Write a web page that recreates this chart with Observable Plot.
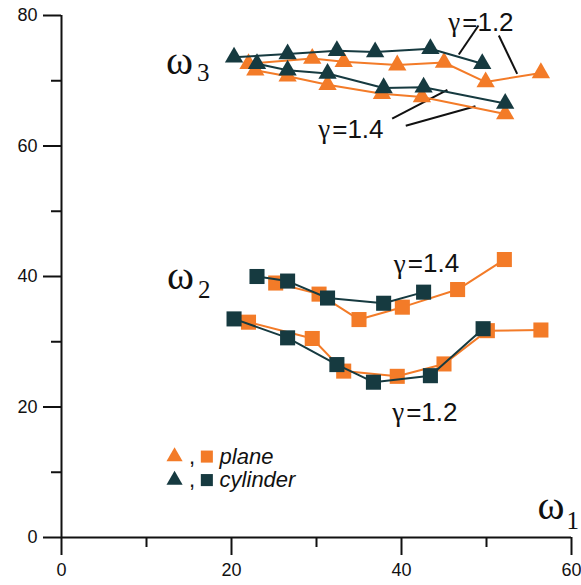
<!DOCTYPE html>
<html>
<head>
<meta charset="utf-8">
<script src="https://cdn.jsdelivr.net/npm/d3@7"></script>
<script src="https://cdn.jsdelivr.net/npm/@observablehq/plot@0.6"></script>
<style>
  html, body { margin: 0; padding: 0; background: #fff; }
  #chart { width: 581px; height: 585px; }
</style>
</head>
<body>
<div id="chart"></div>
<script>
// ---- tick values ----
const xTicksMajor = [0, 20, 40, 60];
const xTicksMinor = [10, 30, 50];
const yTicksMajor = [0, 20, 40, 60, 80];
const yTicksMinor = [10, 30, 50, 70];

// ---- ω3, γ=1.2 ----
const w3_g12_plane_x = [22.0, 29.5, 33.2, 39.5, 45.0, 49.9, 56.4];
const w3_g12_plane_y = [72.6, 73.4, 72.9, 72.4, 72.8, 69.8, 71.2];
const w3_g12_cyl_x = [20.3, 26.6, 32.4, 36.9, 43.4, 49.5];
const w3_g12_cyl_y = [73.6, 74.1, 74.6, 74.4, 74.9, 72.6];
// ---- ω3, γ=1.4 ----
const w3_g14_plane_x = [22.8, 26.6, 31.3, 37.7, 42.4, 52.2];
const w3_g14_plane_y = [71.6, 70.7, 69.4, 68.0, 67.5, 64.9];
const w3_g14_cyl_x = [23.0, 26.6, 31.3, 37.9, 42.6, 52.2];
const w3_g14_cyl_y = [72.6, 71.6, 71.1, 68.9, 69.0, 66.5];
// ---- ω2, γ=1.4 ----
const w2_g14_plane_x = [25.2, 30.3, 35.0, 40.1, 46.6, 52.1];
const w2_g14_plane_y = [39.0, 37.3, 33.4, 35.3, 38.0, 42.6];
const w2_g14_cyl_x = [23.0, 26.6, 31.3, 37.9, 42.6];
const w2_g14_cyl_y = [40.0, 39.3, 36.7, 35.9, 37.6];
// ---- ω2, γ=1.2 ----
const w2_g12_plane_x = [22.0, 29.5, 33.2, 39.5, 45.0, 50.1, 56.4];
const w2_g12_plane_y = [33.0, 30.5, 25.5, 24.7, 26.6, 31.7, 31.8];
const w2_g12_cyl_x = [20.3, 26.6, 32.4, 36.7, 43.4, 49.6];
const w2_g12_cyl_y = [33.5, 30.6, 26.5, 23.8, 24.8, 32.0];

// ---- text ----
const legendNames = ["plane", "cylinder"];
const gammaLabels = ["=1.2", "=1.4", "=1.4", "=1.2"];

const ORANGE = "#f37b28";
const DARK = "#163a40";

const series = (xs, ys, s) => xs.map((x, i) => ({x, y: ys[i], s}));

const planeTri = [...series(w3_g12_plane_x, w3_g12_plane_y, "a"), ...series(w3_g14_plane_x, w3_g14_plane_y, "b")];
const cylTri = [...series(w3_g12_cyl_x, w3_g12_cyl_y, "a"), ...series(w3_g14_cyl_x, w3_g14_cyl_y, "b")];
const planeSq = [...series(w2_g14_plane_x, w2_g14_plane_y, "c"), ...series(w2_g12_plane_x, w2_g12_plane_y, "d")];
const cylSq = [...series(w2_g14_cyl_x, w2_g14_cyl_y, "c"), ...series(w2_g12_cyl_x, w2_g12_cyl_y, "d")];

// annotation anchors (data units)
const gammaPos = [
  {x: 45.5, y: 78.9, t: gammaLabels[0]},
  {x: 30.2, y: 62.5, t: gammaLabels[1]},
  {x: 39.1, y: 41.9, t: gammaLabels[2]},
  {x: 38.9, y: 19.2, t: gammaLabels[3]}
];
const leaders = [
  {x1: 49.06, y1: 78.47, x2: 46.74, y2: 74.02},
  {x1: 51.45, y1: 76.94, x2: 53.61, y2: 71.06},
  {x1: 38.9, y1: 64.2, x2: 45.4, y2: 68.6},
  {x1: 40.5, y1: 63.1, x2: 48.7, y2: 66.1}
];
const omegaPos = [
  {x: 12.3, y: 73.1, sx: 15.95, sy: 71.2, sub: "3"},
  {x: 12.4, y: 40.1, sx: 16.05, sy: 38.0, sub: "2"},
  {x: 56.0, y: 4.9, sx: 59.4, sy: 2.6, sub: "1"}
];
const legendRows = [
  {y: 12.4, name: legendNames[0], color: ORANGE},
  {y: 8.8, name: legendNames[1], color: DARK}
];

const serif = "'Liberation Serif', 'Times New Roman', serif";
const sans = "'Liberation Sans', Arial, sans-serif";

const chart = Plot.plot({
  width: 581,
  height: 585,
  marginLeft: 61,
  marginRight: 10,
  marginTop: 15,
  marginBottom: 48,
  x: {domain: [0, 60]},
  y: {domain: [0, 80]},
  style: {fontFamily: sans, fontSize: "18px", color: "#111", background: "#fff", overflow: "visible"},
  marks: [
    Plot.axisX({ticks: xTicksMajor, tickSize: 18, tickPadding: 8, strokeWidth: 2, fontSize: 18, label: null, tickFormat: d => d}),
    Plot.axisX({ticks: xTicksMinor, tickSize: 10, strokeWidth: 2, label: null, tickFormat: () => ""}),
    Plot.axisY({ticks: yTicksMajor, tickSize: 18, tickPadding: 6, strokeWidth: 2, fontSize: 18, label: null, tickFormat: d => d}),
    Plot.axisY({ticks: yTicksMinor, tickSize: 10, strokeWidth: 2, label: null, tickFormat: () => ""}),
    Plot.ruleY([0], {strokeWidth: 2, stroke: "#111"}),
    Plot.ruleX([0], {strokeWidth: 2, stroke: "#111"}),

    // leader lines
    Plot.link(leaders, {x1: "x1", y1: "y1", x2: "x2", y2: "y2", stroke: "#111", strokeWidth: 2}),

    // plane (orange)
    Plot.line(planeTri, {x: "x", y: "y", z: "s", stroke: ORANGE, strokeWidth: 2}),
    Plot.line(planeSq, {x: "x", y: "y", z: "s", stroke: ORANGE, strokeWidth: 2}),
    Plot.dot(planeTri, {x: "x", y: "y", symbol: "triangle", r: 6.8, fill: ORANGE}),
    Plot.dot(planeSq, {x: "x", y: "y", symbol: "square", r: 8.5, fill: ORANGE}),
    // cylinder (dark)
    Plot.line(cylTri, {x: "x", y: "y", z: "s", stroke: DARK, strokeWidth: 2}),
    Plot.line(cylSq, {x: "x", y: "y", z: "s", stroke: DARK, strokeWidth: 2}),
    Plot.dot(cylTri, {x: "x", y: "y", symbol: "triangle", r: 6.8, fill: DARK}),
    Plot.dot(cylSq, {x: "x", y: "y", symbol: "square", r: 8.5, fill: DARK}),

    // γ labels
    Plot.text(gammaPos, {x: "x", y: "y", text: () => "γ", textAnchor: "start", fontFamily: serif, fontSize: 27, fill: "#111"}),
    Plot.text(gammaPos, {x: "x", y: "y", text: "t", dx: 14, textAnchor: "start", fontFamily: sans, fontSize: 26, fill: "#111"}),

    // ω labels
    Plot.text(omegaPos, {x: "x", y: "y", text: () => "ω", textAnchor: "start", fontFamily: serif, fontSize: 41, fill: "#111"}),
    Plot.text(omegaPos, {x: "sx", y: "sy", text: "sub", textAnchor: "start", fontFamily: serif, fontSize: 25, fill: "#111"}),

    // legend
    Plot.dot(legendRows, {x: 13.3, y: "y", symbol: "triangle", r: 6, fill: "color"}),
    Plot.text(legendRows, {x: 15.0, y: "y", text: () => ",", textAnchor: "start", fontFamily: sans, fontSize: 22, fill: "#111"}),
    Plot.dot(legendRows, {x: 17.1, y: "y", symbol: "square", r: 6.8, fill: "color"}),
    Plot.text(legendRows, {x: 18.6, y: "y", text: "name", textAnchor: "start", fontFamily: sans, fontStyle: "italic", fontSize: 22, fill: "#111"})
  ]
});

document.getElementById("chart").appendChild(chart);
</script>
</body>
</html>
